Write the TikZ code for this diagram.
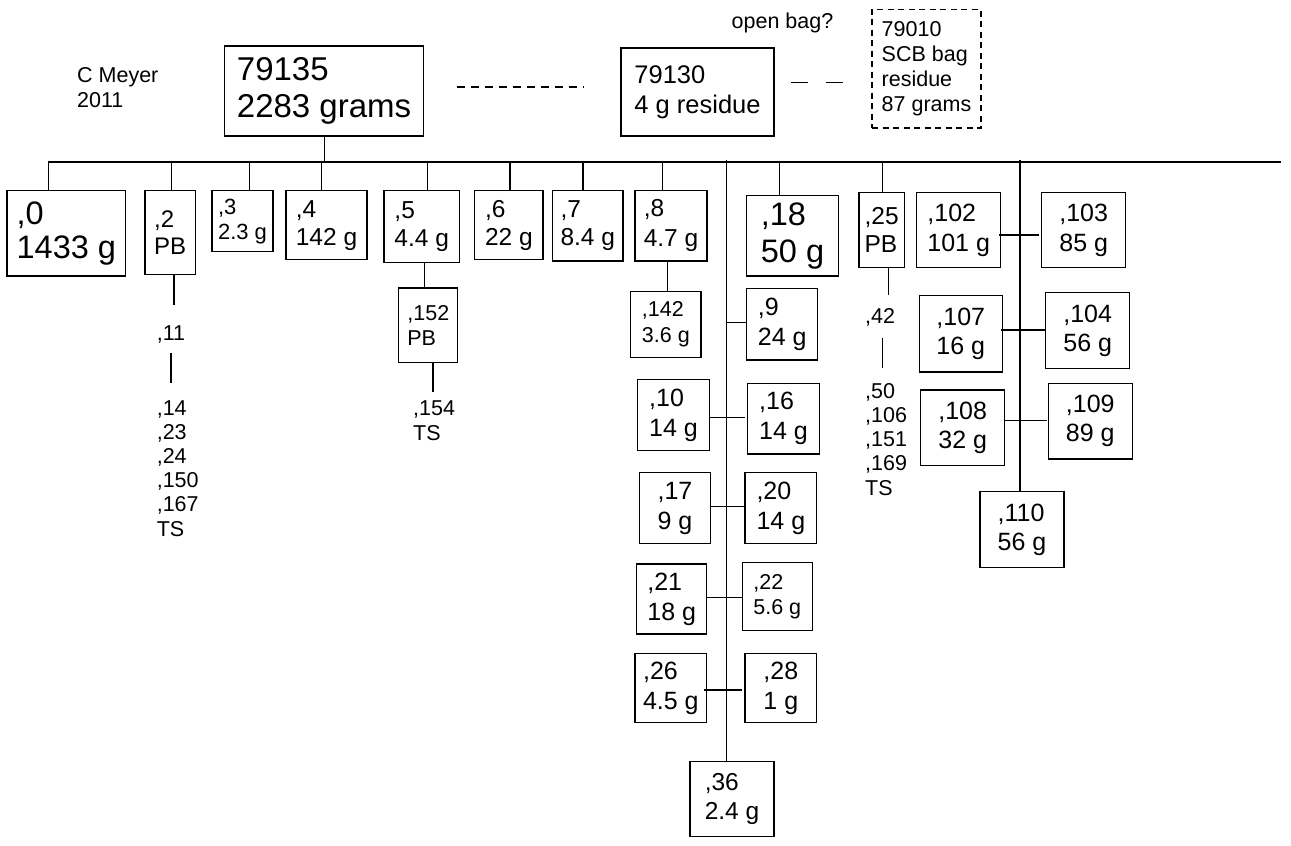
\documentclass[tikz,border=0pt]{standalone}
\usepackage{fontspec}
\setmainfont{Liberation Sans}
\newcommand\fsz[2]{\fontsize{#1}{#2}\selectfont}
\newcommand\mkbox[7]{%
  \pgfmathsetmacro\mbW{#3-#2}\pgfmathsetmacro\mbH{#5-#4}%
  \pgfmathsetmacro\mbX{(#2+#3)/2}\pgfmathsetmacro\mbY{(#4+#5)/2}%
  \node[box,#6,minimum width=\mbW pt,minimum height=\mbH pt] (#1) at (\mbX,\mbY) {#7};}
\tikzset{
  box/.style={draw,rectangle,line width=1.1pt,inner sep=0pt,outer sep=0pt,align=left},
  lnk/.style={line width=1.1pt},
  txt/.style={inner sep=0pt,anchor=base west,align=left,font=\fsz{21.5}{24.2}},
}
\begin{document}
\begin{tikzpicture}[x=1pt,y=-1pt]
\useasboundingbox (0,0) rectangle (1291,846);

% free texts (base anchor = baseline of the last line)
\node[txt,font=\fsz{21.5}{25}] (cm) at (77,107) {C Meyer\\2011};
\node[txt] (ob) at (731.5,28.5) {open bag?};

% top boxes
\mkbox{root}{224.5}{423.6}{46}{136}{font=\fsz{33}{37}}{79135\\2283 grams}
\mkbox{b79130}{621}{774}{48}{136}{font=\fsz{25.5}{30}}{79130\\4 g residue}
\mkbox{b79010}{872}{981}{9.3}{128}{dash pattern=on 6pt off 4.5pt,font=\fsz{21.5}{25}}{79010\\SCB bag\\residue\\87 grams}

% first row
\mkbox{n0}{7}{125.7}{190.7}{276}{font=\fsz{32.5}{34}}{,0\\1433 g}
\mkbox{n2}{145}{195.3}{190.7}{274.7}{font=\fsz{24}{27}}{,2\\PB}
\mkbox{n3}{212}{273}{190.7}{251.7}{font=\fsz{22}{25}}{,3\\2.3 g}
\mkbox{n4}{286}{367}{190.7}{259.7}{font=\fsz{24.5}{28}}{,4\\142 g}
\mkbox{n5}{384}{459.4}{190.7}{262.3}{font=\fsz{24.5}{28}}{,5\\4.4 g}
\mkbox{n6}{474.7}{543}{190.7}{259.7}{font=\fsz{24.5}{28}}{,6\\22 g}
\mkbox{n7}{552.5}{623}{190.7}{261}{font=\fsz{24.5}{28}}{,7\\8.4 g}
\mkbox{n8}{635}{707}{190.7}{261}{font=\fsz{24.5}{30}}{,8\\4.7 g}
\mkbox{n18}{746.7}{838.3}{195.7}{276}{font=\fsz{32.5}{36.5}}{,18\\50 g}
\mkbox{n25}{859}{904.3}{192.3}{267.3}{font=\fsz{24.5}{28.5}}{,25\\PB}
\mkbox{n102}{916.7}{1000.7}{192.3}{267.7}{font=\fsz{25}{30}}{,102\\101 g}
\mkbox{n103}{1041.7}{1125.7}{192.3}{267.7}{font=\fsz{25}{30}}{,103\\85 g}

% lower boxes
\mkbox{n152}{398.8}{457.8}{288}{362.7}{font=\fsz{21.5}{25}}{,152\\PB}
\mkbox{n142}{630.7}{701}{291.7}{357.3}{font=\fsz{21.5}{26}}{,142\\3.6 g}
\mkbox{n9}{746.7}{817.7}{288.3}{360}{font=\fsz{25}{30}}{,9\\24 g}
\mkbox{n107}{919.3}{1002.3}{295.3}{372}{font=\fsz{25}{29}}{,107\\16 g}
\mkbox{n104}{1045.7}{1129.7}{292.7}{368.3}{font=\fsz{25}{29}}{,104\\56 g}
\mkbox{n10}{637.7}{709.3}{379.3}{450.7}{font=\fsz{25}{30}}{,10\\14 g}
\mkbox{n16}{747.7}{819.3}{383.3}{454}{font=\fsz{25}{30}}{,16\\14 g}
\mkbox{n108}{920.7}{1004.7}{390}{465.7}{font=\fsz{25}{29}}{,108\\32 g}
\mkbox{n109}{1048.3}{1132.3}{383.3}{459}{font=\fsz{25}{29}}{,109\\89 g}
\mkbox{n17}{639.3}{710.7}{472.7}{543.3}{font=\fsz{25}{30}}{,17\\9 g}
\mkbox{n20}{745}{816.7}{472.7}{543.3}{font=\fsz{25}{30}}{,20\\14 g}
\mkbox{n110}{980}{1064}{491.7}{567.3}{font=\fsz{25}{29}}{,110\\56 g}
\mkbox{n21}{636.7}{706.7}{564}{634}{font=\fsz{25}{30}}{,21\\18 g}
\mkbox{n22}{742.3}{812.3}{562.3}{630.7}{font=\fsz{21.5}{24.5}}{,22\\5.6 g}
\mkbox{n26}{635}{706.7}{653.3}{722.7}{font=\fsz{25}{30}}{,26\\4.5 g}
\mkbox{n28}{745}{816.7}{653.3}{722.7}{font=\fsz{25}{30}}{,28\\1 g}
\mkbox{n36}{690}{774}{761.7}{836.7}{font=\fsz{24.5}{29}}{,36\\2.4 g}

% text lists (positions give the baseline of the last line)
\node[txt] (l11) at (156.6,340) {,11};
\node[txt] (l14) at (156.6,536) {,14\\,23\\,24\\,150\\,167\\TS};
\node[txt,font=\fsz{21.5}{25}] (l154) at (413,440) {,154\\TS};
\node[txt] (l42) at (865,323.3) {,42};
\node[txt] (l50) at (865,495.1) {,50\\,106\\,151\\,169\\TS};

% dashed links at top
\coordinate (ds1) at (456.5,87); \coordinate (ds2) at (583,87);
\draw[lnk,dash pattern=on 8.5pt off 5.5pt] (ds1) -- (ds2);
\coordinate (dd1) at (791,82.7); \coordinate (dd2) at (844,82.7);
\draw[lnk,dash pattern=on 17pt off 18pt] (dd1) -- (dd2);

% main horizontal line
\coordinate (hl) at (49,162); \coordinate (hr) at (1281,162);
\draw[lnk] (hl) -- (hr);
\draw[lnk] (root.south) -- (root.south |- hl);

% drops
\foreach \n/\x in {n0/48.6,n2/171.8,n3/249.3,n4/321.8,n5/427.7,n6/510,n7/583,n8/662.3,n18/779.3,n25/882.3}{
  \coordinate (d\n) at (\x,160.5);
  \draw[lnk] (d\n) -- (d\n |- \n.north);
}

% trunk 1
\coordinate (t1) at (726.5,160);
\draw[lnk] (t1) -- (t1 |- n36.north);
\coordinate (j9) at (726.5,322.3);
\draw[lnk] (j9) -- (n9.west |- j9);
\coordinate (j10) at (726.5,417.3);
\draw[lnk] (n10.east |- j10) -- ([xshift=-2.5pt]n16.west |- j10);
\coordinate (j17) at (726.5,506.5);
\draw[lnk] (n17.east |- j17) -- (n20.west |- j17);
\coordinate (j21) at (726.5,597.7);
\draw[lnk] (n21.east |- j21) -- (n22.west |- j21);
\coordinate (j26) at (726.5,690);
\draw[lnk] ([xshift=-2.5pt]n26.east |- j26) -- ([xshift=-3pt]n28.west |- j26);

% trunk 2
\coordinate (t2) at (1020,160);
\draw[lnk] (t2) -- (t2 |- n110.north);
\coordinate (j102) at (1020,235);
\draw[lnk] ([xshift=-1.5pt]n102.east |- j102) -- ([xshift=-2.5pt]n103.west |- j102);
\coordinate (j107) at (1020,330);
\draw[lnk] ([xshift=-1.5pt]n107.east |- j107) -- (n104.west |- j107);
\coordinate (j108) at (1020,420.7);
\draw[lnk] (n108.east |- j108) -- ([xshift=-1.5pt]n109.west |- j108);

% sub-links
\coordinate (a1) at (174,305);
\draw[lnk] (a1 |- n2.south) -- (a1);
\coordinate (a2t) at (171,353); \coordinate (a2b) at (171,383);
\draw[lnk] (a2t) -- (a2b);
\coordinate (a3) at (424.4,280);
\draw[lnk] (a3 |- n5.south) -- (a3 |- n152.north);
\coordinate (a4) at (433,392);
\draw[lnk] (a4 |- n152.south) -- (a4);
\coordinate (a5) at (667.7,280);
\draw[lnk] (a5 |- n8.south) -- (a5 |- n142.north);
\coordinate (a6) at (888.3,295);
\draw[lnk] (a6 |- n25.south) -- (a6);
\coordinate (a7t) at (882.3,338.3); \coordinate (a7b) at (882.3,368.3);
\draw[lnk] (a7t) -- (a7b);
\end{tikzpicture}
\end{document}
